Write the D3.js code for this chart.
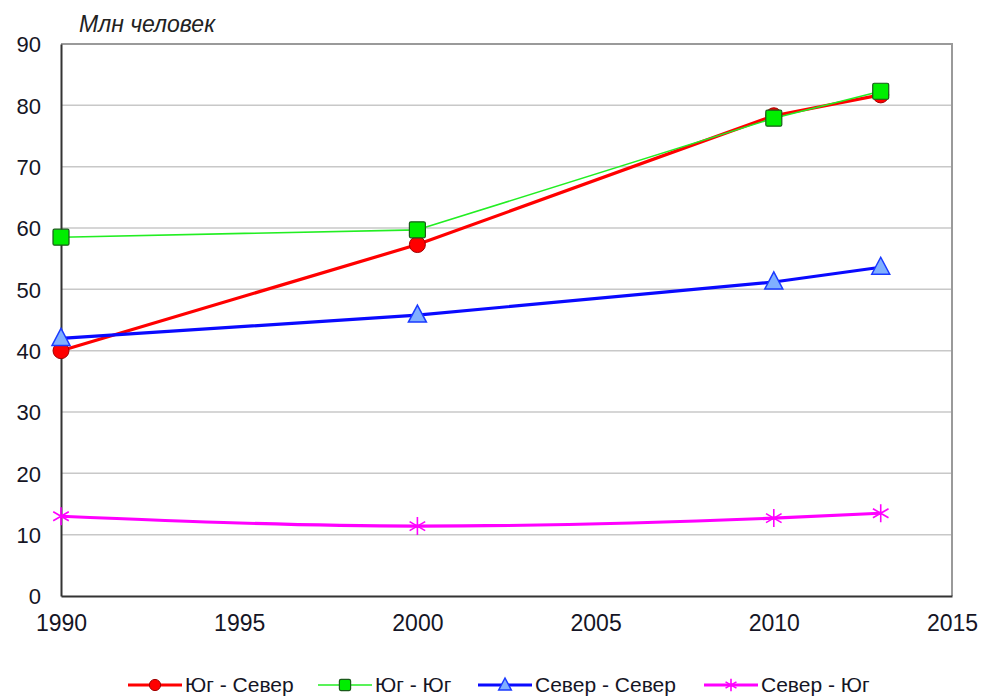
<!DOCTYPE html>
<html><head><meta charset="utf-8">
<script src="https://cdn.jsdelivr.net/npm/d3@7"></script>
<style>body{margin:0;background:#fff;} svg{display:block;font-family:"Liberation Sans",Arial,sans-serif;}</style>
</head><body>
<script>
const years = [1990, 2000, 2010, 2013];
const yugSever = [40.0, 57.3, 78.3, 81.7];
const yugYug = [58.5, 59.7, 77.9, 82.3];
const severSever = [42.0, 45.8, 51.2, 53.6];
const severYug = [13.0, 11.4, 12.7, 13.5];
const xTicks = [1990, 1995, 2000, 2005, 2010, 2015];
const yTicks = [0,10,20,30,40,50,60,70,80,90];
const seriesNames = ["Юг - Север", "Юг - Юг", "Север - Север", "Север - Юг"];
const yTitle = "Млн человек";

const W = 981, H = 697;
const svg = d3.select("body").append("svg").attr("width", W).attr("height", H);
const L = 61, R = 952, T = 44, B = 596;
const x = d3.scaleLinear().domain([1990, 2015]).range([L, R]);
const y = d3.scaleLinear().domain([0, 90]).range([B, T]);

// grid
svg.append("g").selectAll("line").data(yTicks.filter(d => d > 0 && d < 90)).join("line")
  .attr("x1", L).attr("x2", R).attr("y1", d => y(d)).attr("y2", d => y(d))
  .attr("stroke", "#c8c8c8").attr("stroke-width", 1.5);
// frame: top/right gray
svg.append("path").attr("d", `M${L},${T}H${R}V${B}`).attr("fill", "none").attr("stroke", "#9a9a9a").attr("stroke-width", 2);
// axes
const yAxis = svg.append("g").attr("transform", `translate(${L},0)`).call(d3.axisLeft(y).tickValues(yTicks).tickSize(0).tickPadding(20));
const xAxis = svg.append("g").attr("transform", `translate(0,${B})`).call(d3.axisBottom(x).tickValues(xTicks).tickFormat(d3.format("d")).tickSize(0).tickPadding(19));
[yAxis, xAxis].forEach(a => {
  a.select(".domain").attr("stroke", "#333").attr("stroke-width", 2);
  a.selectAll("text").attr("fill", "#151525").attr("font-family", "Liberation Sans, Arial, sans-serif");
});
yAxis.selectAll("text").attr("font-size", 22).attr("dy", "0.35em");
xAxis.selectAll("text").attr("font-size", 23);

svg.append("text").attr("x", 79).attr("y", 32).attr("font-size", 23).attr("font-style", "italic")
  .attr("fill", "#222").text(yTitle);

const series = [
  {name: seriesNames[0], vals: yugSever, color: "#ff0000", w: 3.2, marker: "circle", fill: "#ff0000", stroke: "#a00000", curve: d3.curveLinear},
  {name: seriesNames[1], vals: yugYug, color: "#22ee22", w: 1.6, marker: "square", fill: "#00ee00", stroke: "#1a5a1a", curve: d3.curveLinear},
  {name: seriesNames[2], vals: severSever, color: "#0a0aff", w: 3.2, marker: "triangle", fill: "#80b0ff", stroke: "#1a3aff", curve: d3.curveLinear},
  {name: seriesNames[3], vals: severYug, color: "#ff00ff", w: 3.2, marker: "star", fill: "none", stroke: "#ff00ff", curve: d3.curveMonotoneX}
];

function drawMarker(g, type, fill, stroke, s) {
  if (type === "circle") g.append("circle").attr("r", 8 * s).attr("fill", fill).attr("stroke", stroke).attr("stroke-width", 1);
  else if (type === "square") g.append("rect").attr("x", -8 * s).attr("y", -8 * s).attr("width", 16 * s).attr("height", 16 * s).attr("rx", 1.5).attr("fill", fill).attr("stroke", stroke).attr("stroke-width", 1.2);
  else if (type === "triangle") g.append("path").attr("d", `M0,${-10*s}L${9*s},${7*s}L${-9*s},${7*s}Z`).attr("fill", fill).attr("stroke", stroke).attr("stroke-width", 1.5);
  else if (type === "star") {
    const r = 9 * s;
    const p = [0, 60, 120].map(a => { const t = a * Math.PI / 180; return `M${-r*Math.sin(t)},${-r*Math.cos(t)}L${r*Math.sin(t)},${r*Math.cos(t)}`; }).join("");
    g.append("path").attr("d", p).attr("stroke", stroke).attr("stroke-width", 1.6).attr("fill", "none");
  }
}

series.forEach(s => {
  const line = d3.line().x((d, i) => x(years[i])).y(d => y(d)).curve(s.curve);
  svg.append("path").datum(s.vals).attr("d", line).attr("fill", "none").attr("stroke", s.color).attr("stroke-width", s.w).attr("stroke-linejoin", "round");
});
series.forEach(s => {
  s.vals.forEach((v, i) => {
    const g = svg.append("g").attr("transform", `translate(${x(years[i])},${y(v)})`);
    drawMarker(g, s.marker, s.fill, s.stroke, 1);
  });
});

// legend
const legX = [128, 318, 478, 704];
const ly = 685;
series.forEach((s, i) => {
  const g = svg.append("g").attr("transform", `translate(${legX[i]},${ly})`);
  g.append("line").attr("x1", 0).attr("x2", 54).attr("stroke", s.color).attr("stroke-width", s.w);
  const m = g.append("g").attr("transform", "translate(27,0)");
  drawMarker(m, s.marker, s.fill, s.stroke, 0.7);
  g.append("text").attr("x", 57).attr("y", 0).attr("dy", "0.35em").attr("font-size", 21).attr("fill", "#151525").text(s.name);
});
</script>
</body></html>
